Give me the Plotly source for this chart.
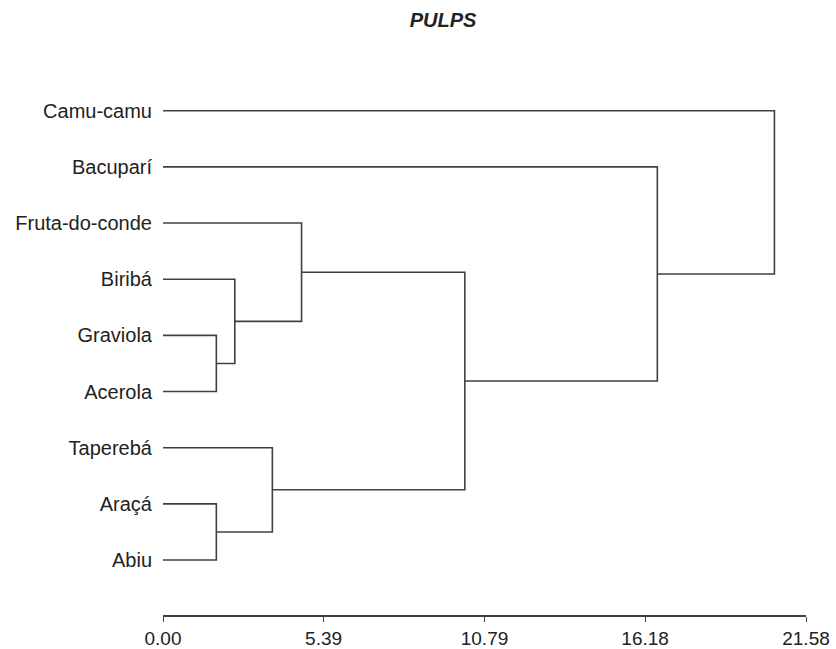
import plotly.graph_objects as go

# ---- data ----
leaf_labels = ["Camu-camu", "Bacuparí", "Fruta-do-conde", "Biribá", "Graviola",
               "Acerola", "Taperebá", "Araçá", "Abiu"]
# linkage: clusters numbered after the leaves (9, 10, ...)
merge_a = [4, 7, 3, 6, 2, 13, 1, 0]
merge_b = [5, 8, 9, 10, 11, 12, 14, 15]
merge_height = [1.79, 1.79, 2.41, 3.67, 4.65, 10.13, 16.59, 20.52]
tick_values = [0.00, 5.39, 10.79, 16.18, 21.58]
tick_labels = ["0.00", "5.39", "10.79", "16.18", "21.58"]
title_text = "PULPS"

# ---- build dendrogram segments ----
n = len(leaf_labels)
pos_y = {i: n - 1 - i for i in range(n)}
pos_x = {i: 0.0 for i in range(n)}
xs, ys = [], []
for k, (a, b, h) in enumerate(zip(merge_a, merge_b, merge_height)):
    cid = n + k
    xs += [pos_x[a], h, h, pos_x[b], None]
    ys += [pos_y[a], pos_y[a], pos_y[b], pos_y[b], None]
    pos_x[cid] = h
    pos_y[cid] = (pos_y[a] + pos_y[b]) / 2.0

line_color = "#404040"
font_family = "Liberation Sans, Arial, sans-serif"

fig = go.Figure()
fig.add_trace(go.Scatter(x=xs, y=ys, mode="lines",
                         line=dict(color=line_color, width=1.6),
                         hoverinfo="skip", showlegend=False))

fig.update_layout(
    width=836, height=649,
    paper_bgcolor="white", plot_bgcolor="white",
    margin=dict(l=163, r=30, t=60, b=34, autoexpand=False),
    title=dict(text="<b><i>" + title_text + "</i></b>", x=443 / 836, xref="container",
               xanchor="center", y=1 - 20 / 649, yref="container", yanchor="middle",
               pad=dict(t=0, b=0, l=0, r=0),
               font=dict(family=font_family, size=20, color="#222")),
    font=dict(family=font_family, color="#222"),
    xaxis=dict(range=[0, 21.58], tickvals=tick_values, ticktext=tick_labels,
               showgrid=False, zeroline=False, showline=True, linecolor=line_color,
               linewidth=1.6, ticks="outside", ticklen=5, tickwidth=1.4,
               tickcolor=line_color, tickfont=dict(size=19, color="#222"),
               automargin=False),
    yaxis=dict(range=[-0.979, 8.903], tickvals=list(range(n - 1, -1, -1)),
               ticktext=leaf_labels, showgrid=False, zeroline=False, showline=False,
               ticks="", ticklabelstandoff=10, tickfont=dict(size=20, color="#222"),
               automargin=False),
)

fig.write_html("out.html", config={"displayModeBar": False},
               post_script="document.body.style.margin='0';document.body.style.overflow='hidden';")
